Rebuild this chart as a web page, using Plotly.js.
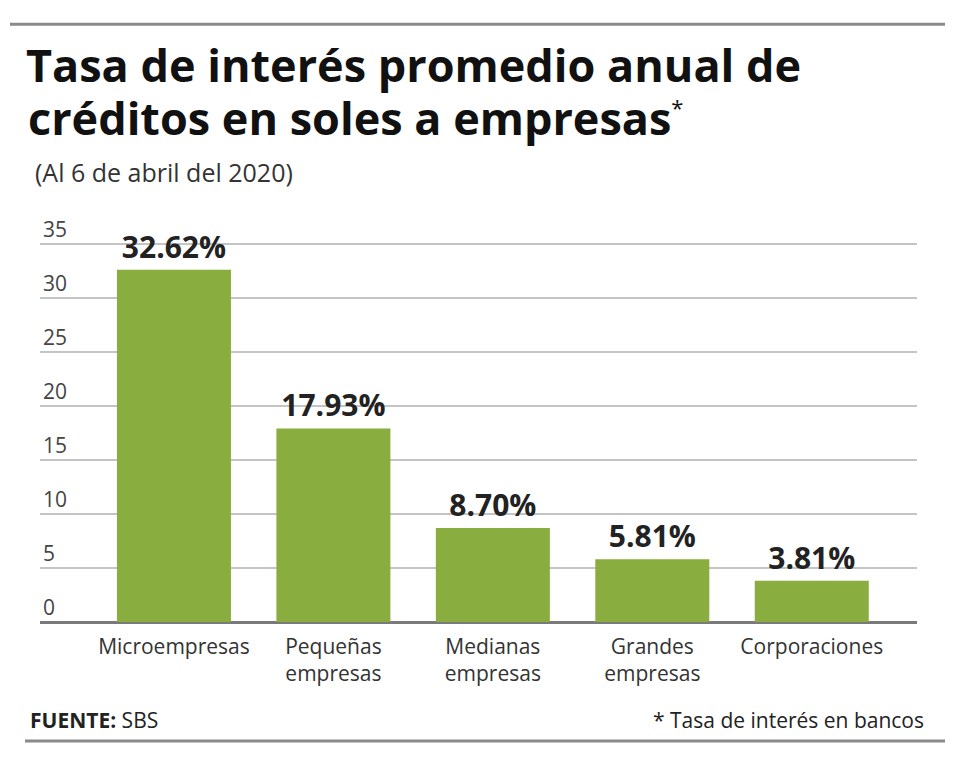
<!DOCTYPE html>
<html>
<head>
<meta charset="utf-8">
<script src="https://cdn.plot.ly/plotly-3.0.1.min.js"></script>
<style>html,body{margin:0;padding:0;background:#fff;}#chart{width:980px;height:758px;}</style>
</head>
<body>
<div id="chart"></div>
<script>
const categories = ["Microempresas", "Pequeñas<br>empresas", "Medianas<br>empresas", "Grandes<br>empresas", "Corporaciones"];
const rates = [32.62, 17.93, 8.70, 5.81, 3.81];
const yTicks = [0, 5, 10, 15, 20, 25, 30, 35];

const W = 980, H = 758;
const ZERO = 622, TOP35 = 244;
const pxPerUnit = (ZERO - TOP35) / 35;
const YMAX = 39;
const L = 40, R = 917, B = ZERO, T = ZERO - YMAX * pxPerUnit;
const px = x => (x - L) / (R - L);
const py = y => (B - y) / (B - T);

const FONT = "Open Sans, Liberation Sans, sans-serif";
const trace = {
  type: "bar",
  x: categories.map((c, i) => i),
  y: rates,
  width: 0.715,
  marker: {color: "#89ad3e"},
  text: rates.map(v => v.toFixed(2) + "%"),
  textposition: "outside",
  textfont: {family: FONT, size: 30, color: "#222", weight: 700},
  cliponaxis: false,
  hoverinfo: "skip"
};

const layout = {
  width: W, height: H,
  margin: {l: L, r: W - R, t: T, b: H - B},
  paper_bgcolor: "#fff", plot_bgcolor: "#fff",
  showlegend: false,
  font: {family: FONT, color: "#333"},
  title: {
    text: "<b>Tasa de interés promedio anual de</b>",
    font: {family: FONT, size: 45, color: "#111"},
    xref: "container", yref: "container",
    x: 26 / W, xanchor: "left",
    y: 1 - 50 / H, yanchor: "top"
  },
  xaxis: {
    type: "linear",
    range: [-0.84, 4.66],
    tickmode: "array",
    tickvals: categories.map((c, i) => i),
    ticktext: categories,
    tickfont: {family: FONT, size: 21, color: "#333"},
    ticklabelstandoff: 10,
    showgrid: false, zeroline: false, showline: false, ticks: "",
    fixedrange: true
  },
  yaxis: {
    range: [0, YMAX],
    tickmode: "array",
    tickvals: yTicks,
    ticktext: yTicks.map(String),
    ticklabelposition: "inside top",
    tickfont: {family: FONT, size: 21, color: "#444"},
    showgrid: true, gridcolor: "#c4c4c4", gridwidth: 1.5,
    zeroline: true, zerolinecolor: "#7a7a7a", zerolinewidth: 3,
    showline: false, ticks: "",
    fixedrange: true
  },
  shapes: [
    {type: "line", xref: "paper", yref: "paper", x0: px(10), x1: px(945), y0: py(24), y1: py(24), line: {color: "#8a8a8a", width: 3}},
    {type: "line", xref: "paper", yref: "paper", x0: px(25), x1: px(945), y0: py(741), y1: py(741), line: {color: "#8a8a8a", width: 3}}
  ],
  annotations: [
    {text: "<b>créditos en soles a empresas</b><sup><span style='font-size:22px'>*</span></sup>", xref: "paper", yref: "paper",
     x: px(26), y: py(85), xanchor: "left", yanchor: "top", showarrow: false,
     font: {family: FONT, size: 45, color: "#111"}},
    {text: "(Al 6 de abril del 2020)", xref: "paper", yref: "paper",
     x: px(33), y: py(172), xanchor: "left", yanchor: "middle", showarrow: false,
     font: {family: FONT, size: 25, color: "#333"}},
    {text: "<b>FUENTE:</b> SBS", xref: "paper", yref: "paper",
     x: px(28), y: py(720), xanchor: "left", yanchor: "middle", showarrow: false,
     font: {family: FONT, size: 21, color: "#222"}},
    {text: "* Tasa de interés en bancos", xref: "paper", yref: "paper",
     x: px(926), y: py(720), xanchor: "right", yanchor: "middle", showarrow: false,
     font: {family: FONT, size: 21, color: "#222"}}
  ]
};

Plotly.newPlot("chart", [trace], layout, {displayModeBar: false, staticPlot: true});
</script>
</body>
</html>
